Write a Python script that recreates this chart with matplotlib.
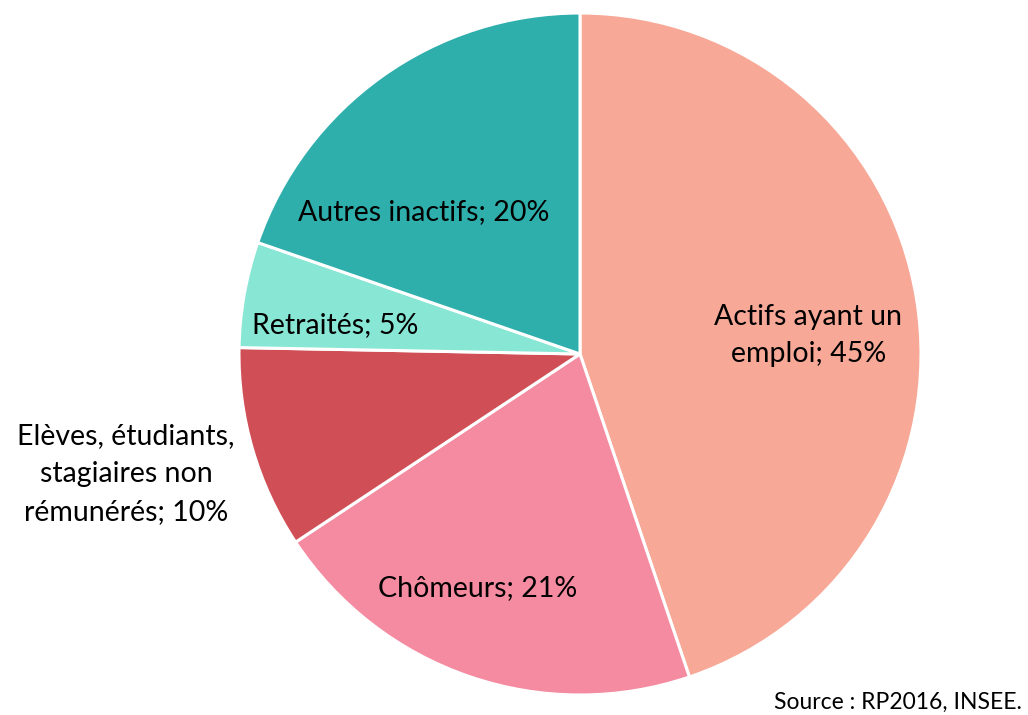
import matplotlib
matplotlib.use("Agg")
import matplotlib.pyplot as plt

# ---- data ----------------------------------------------------------
categories = ["Actifs ayant un\nemploi", "Chômeurs",
              "Elèves, étudiants,\nstagiaires non\nrémunérés",
              "Retraités", "Autres inactifs"]
shares = [44.8, 20.9, 9.6, 5.0, 19.7]
pct_labels = [45, 21, 10, 5, 20]
colors = ["#F7A897", "#F48BA1", "#D04E55", "#88E6D5", "#2EAFAC"]

# label centres in pie units (radius = 1)
label_pos = [(0.669, 0.054), (-0.299, -0.686), (-1.331, -0.352),
             (-0.718, 0.085), (-0.457, 0.416)]

plt.rcParams["font.family"] = ["Lato", "DejaVu Sans"]

W, H = 1028, 715
cx, cy, r = 580, 354, 341
fig = plt.figure(figsize=(W / 100, H / 100), dpi=100)
ax = fig.add_axes([(cx - r) / W, (H - cy - r) / H, 2 * r / W, 2 * r / H])

ax.pie(shares, colors=colors, startangle=90, counterclock=False,
       radius=1.0, wedgeprops=dict(edgecolor="white", linewidth=2.2))
ax.set_xlim(-1, 1); ax.set_ylim(-1, 1)
ax.set_aspect("equal")
ax.axis("off")

for name, p, (x, y) in zip(categories, pct_labels, label_pos):
    ax.text(x, y, f"{name}; {p}%", ha="center", va="center",
            fontsize=20.5, linespacing=1.55, color="black", clip_on=False)

fig.text(1022 / W, 1 - 702 / H, "Source : RP2016, INSEE.", ha="right",
         va="center", fontsize=16.5)

fig.savefig("out.png", dpi=100)
